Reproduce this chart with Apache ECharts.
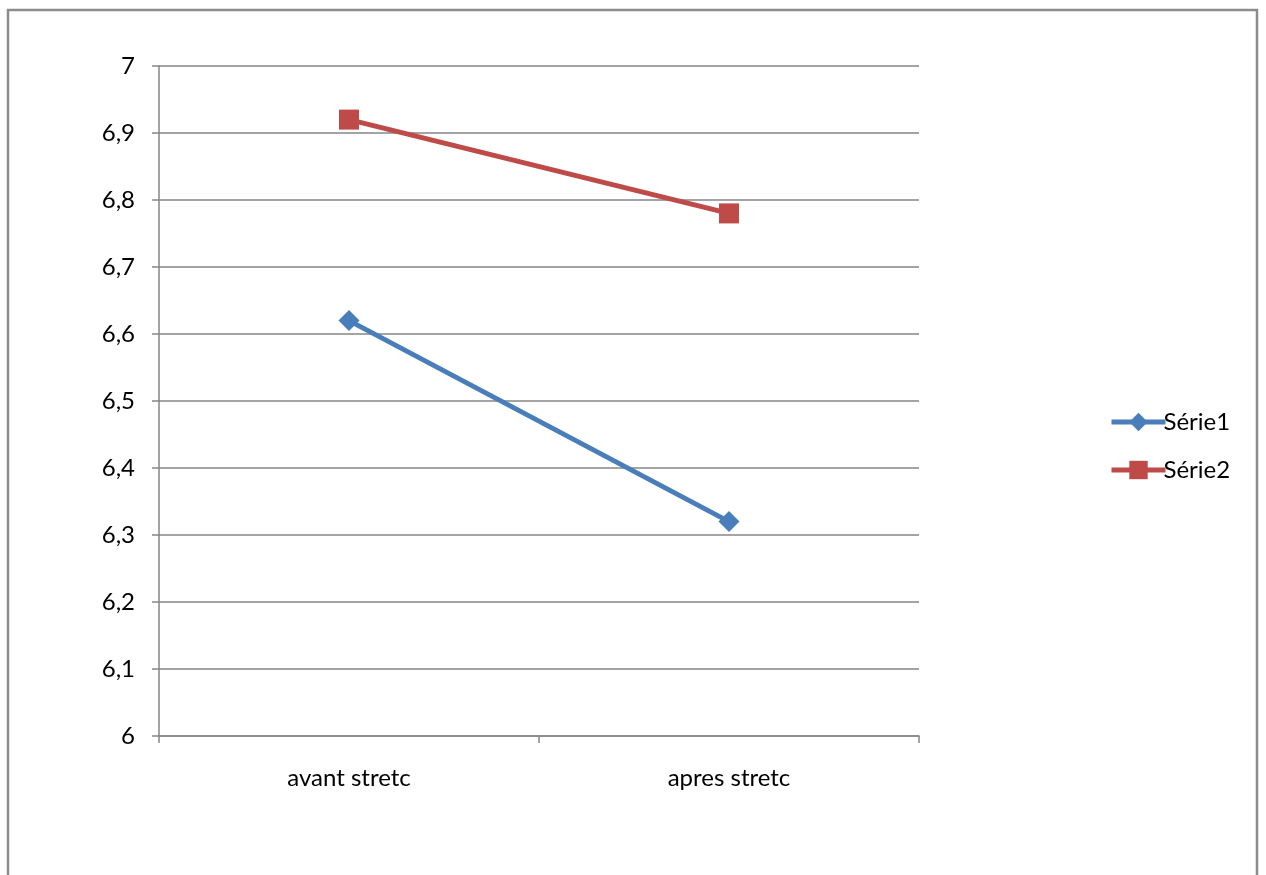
<!DOCTYPE html>
<html>
<head>
<meta charset="utf-8">
<script src="https://cdn.jsdelivr.net/npm/echarts@6/dist/echarts.min.js"></script>
<style>
  html, body { margin: 0; padding: 0; background: #fff; }
  #chart { width: 1266px; height: 875px; }
</style>
</head>
<body>
<div id="chart"></div>
<script>
// Categories and values of the two series
const categories = ['avant stretc', 'apres stretc'];
const serie1 = [6.62, 6.32];
const serie2 = [6.92, 6.78];
const seriesNames = ['Série1', 'Série2'];

const axisGray = '#868686';
const font = 'Lato, "Open Sans", sans-serif';
const fontSize = 24;

const chart = echarts.init(document.getElementById('chart'), null, { renderer: 'canvas' });

chart.setOption({
  animation: false,
  backgroundColor: '#fff',
  graphic: [{
    type: 'rect',
    shape: { x: 8, y: 10, width: 1249, height: 900 },
    style: { fill: 'none', stroke: '#8c8c8c', lineWidth: 2.5 },
    silent: true
  }],
  grid: { left: 159, right: 347, top: 66, bottom: 139, containLabel: false },
  legend: {
    orient: 'vertical',
    left: 1104,
    top: 405,
    itemGap: 24,
    itemWidth: 54,
    itemHeight: 23,
    lineStyle: { width: 5 },
    textStyle: { fontFamily: font, fontSize: fontSize, color: '#000', padding: [0, 0, 0, -7] },
    data: seriesNames
  },
  xAxis: {
    type: 'category',
    data: categories,
    boundaryGap: true,
    axisLine: { lineStyle: { color: axisGray, width: 1.5 } },
    axisTick: { show: true, length: 7, inside: false, lineStyle: { color: axisGray, width: 1.5 } },
    axisLabel: { fontFamily: font, fontSize: fontSize, color: '#000', margin: 30 },
    splitLine: { show: false }
  },
  yAxis: {
    type: 'value',
    min: 6,
    max: 7,
    interval: 0.1,
    axisLine: { show: true, lineStyle: { color: axisGray, width: 1.5 } },
    axisTick: { show: true, length: 7, lineStyle: { color: axisGray, width: 1.5 } },
    axisLabel: {
      fontFamily: font, fontSize: fontSize, color: '#000', margin: 24,
      formatter: v => (Math.round(v * 10) / 10).toString().replace('.', ',')
    },
    splitLine: { show: true, lineStyle: { color: axisGray, width: 1.5 } }
  },
  series: [
    {
      name: seriesNames[0],
      type: 'line',
      data: serie1,
      color: '#4A7EBB',
      symbol: 'diamond',
      symbolSize: 21,
      lineStyle: { width: 5, color: '#4A7EBB' },
      itemStyle: { color: '#4A7EBB' }
    },
    {
      name: seriesNames[1],
      type: 'line',
      data: serie2,
      color: '#BE4B48',
      symbol: 'rect',
      symbolSize: 20,
      lineStyle: { width: 5, color: '#BE4B48' },
      itemStyle: { color: '#BE4B48' }
    }
  ]
});
</script>
</body>
</html>
